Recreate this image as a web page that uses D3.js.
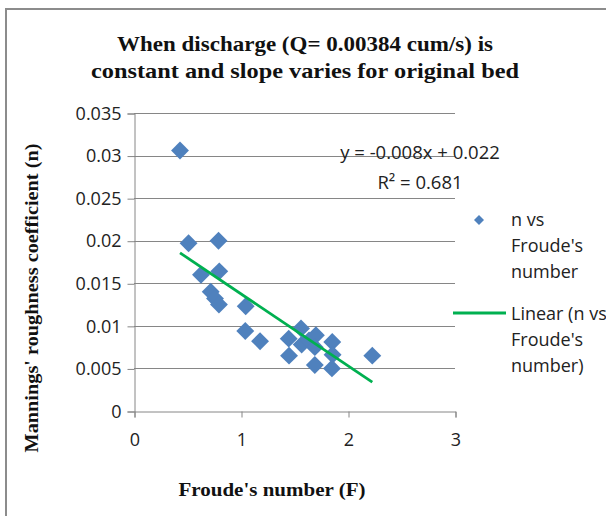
<!DOCTYPE html>
<html><head><meta charset="utf-8">
<script src="https://cdn.jsdelivr.net/npm/d3@7"></script>
<style>body{margin:0;background:#fff}svg{display:block}</style>
</head><body>
<script>
const froude = [0.43,0.51,0.79,0.626,0.797,0.717,0.757,0.794,1.044,1.04,1.178,1.446,1.561,1.567,1.449,1.636,1.70,1.69,1.69,1.853,1.856,1.85,2.227];
const manning = [0.0306,0.0197,0.0200,0.0160,0.0164,0.0140,0.0132,0.0125,0.0123,0.0094,0.0082,0.0085,0.0097,0.0078,0.0065,0.0083,0.0089,0.0075,0.0054,0.0081,0.0066,0.0050,0.0065];
// linear trend as fitted in the original
const trendSlope = [-0.00845];
const trendIntercept = [0.0222];
const xTicks = [0,1,2,3];
const yTicks = [0,0.005,0.01,0.015,0.02,0.025,0.03,0.035];
const titleLines = ["When discharge (Q= 0.00384 cum/s) is","constant and slope varies for original bed"];
const eqLines = ["y = -0.008x + 0.022","R\u00b2 = 0.681"];
const legendSeries = ["n vs","Froude's","number"];
const legendTrend = ["Linear (n vs","Froude's","number)"];

const W=606,H=516;
const svg=d3.select("body").append("svg").attr("width",W).attr("height",H);
svg.append("rect").attr("width",W).attr("height",H).attr("fill","#fff");
svg.append("path").attr("d",`M6,${H+5}V9H${W+5}`).attr("fill","none").attr("stroke","#8c8c8c").attr("stroke-width",2);

const x=d3.scaleLinear().domain([0,3]).range([134,455]);
const y=d3.scaleLinear().domain([0,0.035]).range([411,113]);
const sans="'Open Sans', sans-serif", serif="'Liberation Serif', serif";
const grey="#868686";

// gridlines
svg.append("g").selectAll("line").data(yTicks.filter(d=>d>0)).join("line")
 .attr("x1",x(0)).attr("x2",x(3)).attr("y1",d=>Math.round(y(d))+0.5).attr("y2",d=>Math.round(y(d))+0.5)
 .attr("stroke",grey).attr("stroke-width",1);

const yAxis=svg.append("g").attr("transform",`translate(${x(0)+0.5},0.5)`)
 .call(d3.axisLeft(y).tickValues(yTicks).tickSize(7).tickPadding(6).tickFormat(d=>d3.format("")(+d.toFixed(3))));
const xAxis=svg.append("g").attr("transform",`translate(0.5,${y(0)+0.5})`)
 .call(d3.axisBottom(x).tickValues(xTicks).tickSize(6).tickPadding(16).tickFormat(d3.format("d")));
[yAxis,xAxis].forEach(g=>{g.select(".domain").attr("stroke",grey);g.selectAll(".tick line").attr("stroke",grey);
 g.selectAll("text").attr("font-family",sans).attr("font-size",18).attr("fill","#222");});

// points
const pts=froude.map((f,i)=>({f,n:manning[i]}));
const diamond=d3.symbol(d3.symbolSquare).size(160);
svg.append("g").selectAll("path").data(pts).join("path")
 .attr("d",diamond).attr("transform",d=>`translate(${x(d.f)},${y(d.n)}) rotate(45)`)
 .attr("fill","#4f81bd");

// linear trend
const ext=d3.extent(froude);
const fit=f=>trendIntercept[0]+trendSlope[0]*f;
svg.append("line").attr("x1",x(ext[0])).attr("y1",y(fit(ext[0]))).attr("x2",x(ext[1])).attr("y2",y(fit(ext[1])))
 .attr("stroke","#00b050").attr("stroke-width",2.8);

// equation
svg.append("g").selectAll("text").data(eqLines).join("text")
 .attr("x",420).attr("y",(d,i)=>159+i*30).attr("text-anchor","middle")
 .attr("font-family",sans).attr("font-size",18.5).attr("fill","#222").text(d=>d);

// title
const tLen=[376,428];
svg.append("g").selectAll("text").data(titleLines).join("text")
 .attr("x",305).attr("y",(d,i)=>51+i*27).attr("text-anchor","middle")
 .attr("textLength",(d,i)=>tLen[i]).attr("lengthAdjust","spacingAndGlyphs")
 .attr("font-family",serif).attr("font-weight","bold").attr("font-size",21).attr("fill","#111").text(d=>d);

// axis titles
svg.append("text").attr("x",272).attr("y",496).attr("text-anchor","middle")
 .attr("textLength",187).attr("lengthAdjust","spacingAndGlyphs")
 .attr("font-family",serif).attr("font-weight","bold").attr("font-size",18).attr("fill","#111").text("Froude's number (F)");
svg.append("text").attr("transform","translate(38,298) rotate(-90)").attr("text-anchor","middle")
 .attr("textLength",309).attr("lengthAdjust","spacingAndGlyphs")
 .attr("font-family",serif).attr("font-weight","bold").attr("font-size",18).attr("fill","#111").text("Mannings' roughness coefficient (n)");

// legend
svg.append("path").attr("d",d3.symbol(d3.symbolSquare).size(50)).attr("transform","translate(479,220) rotate(45)").attr("fill","#4f81bd");
svg.append("g").selectAll("text").data(legendSeries).join("text")
 .attr("x",511).attr("y",(d,i)=>226+i*26).attr("font-family",sans).attr("font-size",18).attr("fill","#222").text(d=>d);
svg.append("line").attr("x1",453).attr("x2",506).attr("y1",313).attr("y2",313).attr("stroke","#00b050").attr("stroke-width",2.8);
svg.append("g").selectAll("text").data(legendTrend).join("text")
 .attr("x",511).attr("y",(d,i)=>320+i*26).attr("font-family",sans).attr("font-size",18).attr("fill","#222").text(d=>d);
</script>
</body></html>
